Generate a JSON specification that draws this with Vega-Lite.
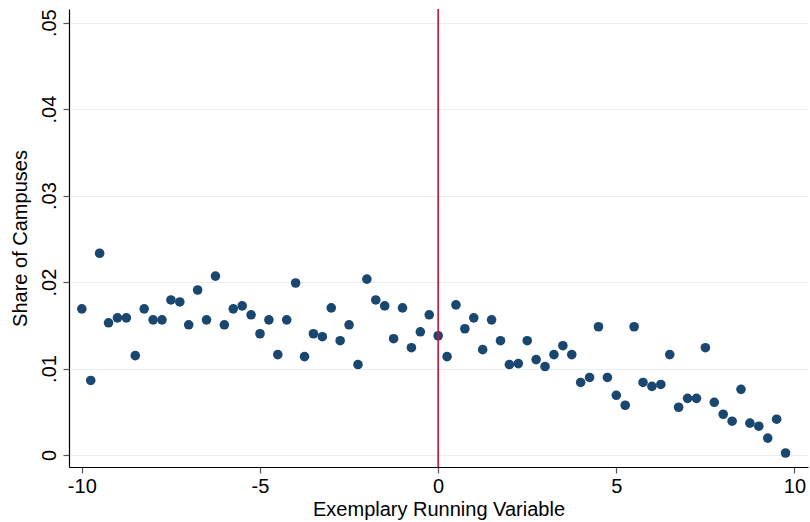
{
  "$schema": "https://vega.github.io/schema/vega-lite/v6.json",
  "width": 739,
  "height": 458,
  "autosize": {"type": "none"},
  "padding": {"left": 69, "top": 9, "right": 2, "bottom": 55},
  "background": "white",
  "config": {
    "view": {"stroke": null},
    "font": "Liberation Sans",
    "axis": {"labelFont": "Liberation Sans", "titleFont": "Liberation Sans", "labelFontSize": 20, "titleFontSize": 20, "titleFontWeight": "normal", "labelColor": "#000", "titleColor": "#000", "domainColor": "#000", "domainWidth": 1.2, "tickColor": "#555", "tickSize": 6, "tickWidth": 1.2}
  },
  "data": {"values": [
    {"x": -10, "y": 0.0169}, {"x": -9.75, "y": 0.00862}, {"x": -9.5, "y": 0.02333}, {"x": -9.25, "y": 0.01529},
    {"x": -9, "y": 0.01586}, {"x": -8.75, "y": 0.01586}, {"x": -8.5, "y": 0.01149}, {"x": -8.25, "y": 0.0169},
    {"x": -8, "y": 0.01563}, {"x": -7.75, "y": 0.01563}, {"x": -7.5, "y": 0.01793}, {"x": -7.25, "y": 0.0177},
    {"x": -7, "y": 0.01506}, {"x": -6.75, "y": 0.01908}, {"x": -6.5, "y": 0.01563}, {"x": -6.25, "y": 0.02069},
    {"x": -6, "y": 0.01506}, {"x": -5.75, "y": 0.0169}, {"x": -5.5, "y": 0.01724}, {"x": -5.25, "y": 0.01621},
    {"x": -5, "y": 0.01402}, {"x": -4.75, "y": 0.01563}, {"x": -4.5, "y": 0.01161}, {"x": -4.25, "y": 0.01563},
    {"x": -4, "y": 0.01989}, {"x": -3.75, "y": 0.01138}, {"x": -3.5, "y": 0.01402}, {"x": -3.25, "y": 0.01368},
    {"x": -3, "y": 0.01701}, {"x": -2.75, "y": 0.01322}, {"x": -2.5, "y": 0.01506}, {"x": -2.25, "y": 0.01046},
    {"x": -2, "y": 0.02034}, {"x": -1.75, "y": 0.01793}, {"x": -1.5, "y": 0.01724}, {"x": -1.25, "y": 0.01345},
    {"x": -1, "y": 0.01701}, {"x": -0.75, "y": 0.01241}, {"x": -0.5, "y": 0.01425}, {"x": -0.25, "y": 0.01621},
    {"x": 0, "y": 0.01379}, {"x": 0.25, "y": 0.01138}, {"x": 0.5, "y": 0.01736}, {"x": 0.75, "y": 0.0146},
    {"x": 1, "y": 0.01586}, {"x": 1.25, "y": 0.01218}, {"x": 1.5, "y": 0.01563}, {"x": 1.75, "y": 0.01322},
    {"x": 2, "y": 0.01046}, {"x": 2.25, "y": 0.01057}, {"x": 2.5, "y": 0.01322}, {"x": 2.75, "y": 0.01103},
    {"x": 3, "y": 0.01023}, {"x": 3.25, "y": 0.01161}, {"x": 3.5, "y": 0.01264}, {"x": 3.75, "y": 0.01161},
    {"x": 4, "y": 0.00839}, {"x": 4.25, "y": 0.00897}, {"x": 4.5, "y": 0.01483}, {"x": 4.75, "y": 0.00897},
    {"x": 5, "y": 0.0069}, {"x": 5.25, "y": 0.00575}, {"x": 5.5, "y": 0.01483}, {"x": 5.75, "y": 0.00839},
    {"x": 6, "y": 0.00793}, {"x": 6.25, "y": 0.00816}, {"x": 6.5, "y": 0.01161}, {"x": 6.75, "y": 0.00552},
    {"x": 7, "y": 0.00655}, {"x": 7.25, "y": 0.00655}, {"x": 7.5, "y": 0.01241}, {"x": 7.75, "y": 0.00609},
    {"x": 8, "y": 0.00471}, {"x": 8.25, "y": 0.00391}, {"x": 8.5, "y": 0.00759}, {"x": 8.75, "y": 0.00368},
    {"x": 9, "y": 0.00333}, {"x": 9.25, "y": 0.00195}, {"x": 9.5, "y": 0.00414}, {"x": 9.75, "y": 0.00023}
  ]},
  "layer": [
    {
      "mark": {"type": "point", "filled": true, "shape": "circle", "size": 92, "color": "#1a476f", "opacity": 1},
      "encoding": {
        "x": {"field": "x", "type": "quantitative", "title": "Exemplary Running Variable",
          "scale": {"domain": [-10.36, 10.38], "nice": false, "zero": false},
          "axis": {"values": [-10, -5, 0, 5, 10], "labelExpr": "toString(datum.value)", "grid": false, "labelPadding": 3, "titlePadding": 3, "labelFlush": false}},
        "y": {"field": "y", "type": "quantitative", "title": "Share of Campuses",
          "scale": {"domain": [-0.00139, 0.05158], "nice": false, "zero": false},
          "axis": {"values": [0, 0.01, 0.02, 0.03, 0.04, 0.05], "labelExpr": "datum.value == 0 ? '0' : replace(format(datum.value, '.2f'), '0.', '.')",
            "labelAngle": -90, "labelAlign": "center", "labelBaseline": "bottom", "labelPadding": 4,
            "titlePadding": 9, "labelFlush": false,
            "grid": true, "gridColor": "#e6eef0", "gridWidth": 1.2}}
      }
    },
    {
      "data": {"values": [{"x": 0}]},
      "mark": {"type": "rule", "color": "#d0103a", "strokeWidth": 1.6},
      "encoding": {"x": {"field": "x", "type": "quantitative"}}
    }
  ]
}
